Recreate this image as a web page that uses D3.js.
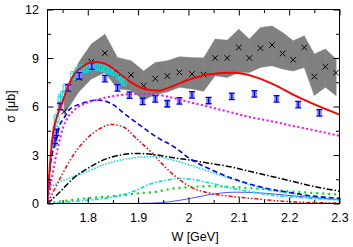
<!DOCTYPE html>
<html>
<head>
<meta charset="utf-8">
<script src="https://cdn.jsdelivr.net/npm/d3@7"></script>
<style>
body { margin: 0; background: #fff; }
svg text { font-family: "Liberation Sans", Arial, sans-serif; font-size: 12.5px; fill: #000; }
</style>
</head>
<body>
<svg id="chart"></svg>
<script>
// 坐标轴刻度
var xTicks = [1.8, 1.9, 2.0, 2.1, 2.2, 2.3];
var xTickLabels = ['1.8', '1.9', '2', '2.1', '2.2', '2.3'];
var xMinorTicks = [1.75, 1.85, 1.95, 2.05, 2.15, 2.25];
var yTicks = [0, 3, 6, 9, 12];
var yMinorTicks = [1.5, 4.5, 7.5, 10.5];

// 灰色误差带数据 (×)
var bandW     = [1.753, 1.782, 1.807, 1.834, 1.859, 1.886, 1.911, 1.934, 1.958, 1.982, 2.007, 2.030, 2.053, 2.077, 2.100, 2.121, 2.143, 2.166, 2.187, 2.208, 2.230, 2.250, 2.272, 2.293];
var bandSigma = [5.69, 7.77, 8.77, 9.30, 8.05, 7.95, 7.29, 7.72, 7.89, 8.11, 8.01, 7.97, 9.00, 9.00, 9.65, 9.00, 9.61, 9.80, 9.28, 8.89, 9.65, 7.85, 8.46, 8.09];
var bandHigh  = [6.60, 8.72, 9.86, 10.47, 9.03, 8.83, 8.20, 8.72, 8.83, 9.07, 9.03, 9.00, 10.17, 10.10, 10.78, 10.17, 10.88, 10.98, 10.57, 10.06, 10.37, 9.25, 9.55, 8.94];
var bandLow   = [5.50, 6.90, 7.70, 8.10, 7.10, 7.00, 6.40, 6.75, 6.90, 7.19, 7.09, 6.94, 7.90, 7.80, 8.11, 8.11, 8.42, 8.52, 8.32, 8.20, 8.42, 6.68, 7.19, 6.68];

// 蓝色数据点
var blueW     = [1.721, 1.735, 1.738, 1.745, 1.761, 1.783, 1.808, 1.834, 1.859, 1.883, 1.909, 1.934, 1.958, 1.982, 2.007, 2.040, 2.086, 2.131, 2.175, 2.218, 2.260];
var blueSigma = [1.10, 3.90, 4.40, 6.00, 7.15, 7.90, 8.50, 7.72, 7.15, 6.70, 6.31, 6.47, 6.17, 6.35, 6.72, 6.37, 6.63, 6.78, 6.47, 6.12, 5.61];

// 青色方块数据点
var cyanW     = [1.721, 1.732, 1.736, 1.738, 1.746, 1.750, 1.756, 1.771, 1.779, 1.788, 1.797, 1.803, 1.811, 1.819, 1.828, 1.836, 1.844, 1.852, 1.861, 1.868, 1.872];
var cyanSigma = [1.10, 3.70, 4.60, 5.24, 6.47, 6.68, 7.15, 7.91, 8.15, 8.32, 8.36, 8.46, 8.52, 8.48, 8.42, 8.32, 8.26, 8.15, 7.91, 7.70, 7.54];

// 理论曲线 [W, sigma]
var totalFit = [[1.72, 0.3], [1.7245, 2.2], [1.7296, 4.0], [1.7395, 5.45], [1.75, 6.3], [1.758, 7.0], [1.771, 7.9], [1.791, 8.5], [1.811, 8.75], [1.831, 8.68], [1.851, 8.35], [1.871, 7.85], [1.891, 7.4], [1.917, 7.05], [1.94, 6.98], [1.964, 7.2], [2.004, 7.7], [2.043, 8.0], [2.09, 8.08], [2.13, 7.85], [2.17, 7.35], [2.21, 6.7], [2.256, 6.05], [2.3, 5.5]];
var magentaPart = [[1.72, 0], [1.73, 1.8], [1.741, 3.5], [1.751, 4.7], [1.761, 5.35], [1.778, 5.9], [1.805, 6.3], [1.824, 6.47], [1.858, 6.68], [1.891, 6.78], [1.924, 6.78], [1.964, 6.57], [2.004, 6.26], [2.043, 5.96], [2.083, 5.65], [2.123, 5.34], [2.163, 5.1], [2.202, 4.83], [2.242, 4.58], [2.3, 4.18]];
var blueDashed = [[1.72, 0], [1.725, 2.2], [1.737, 3.9], [1.745, 4.9], [1.751, 5.2], [1.765, 5.85], [1.785, 6.15], [1.805, 6.35], [1.82, 6.4], [1.838, 6.3], [1.851, 6.1], [1.871, 5.6], [1.904, 4.83], [1.937, 4.11], [1.974, 3.45], [2.004, 2.75], [2.043, 2.12], [2.083, 1.6], [2.123, 1.19], [2.163, 0.88], [2.202, 0.68], [2.242, 0.48], [2.3, 0.32]];
var redDashDot = [[1.72, 0], [1.745, 1.55], [1.771, 2.98], [1.798, 4.01], [1.824, 4.63], [1.847, 4.89], [1.871, 4.73], [1.897, 4.01], [1.924, 3.24], [1.944, 2.57], [1.964, 1.95], [2.004, 1.03], [2.043, 0.63], [2.083, 0.45], [2.123, 0.32], [2.202, 0.11], [2.3, 0.03]];
var blackDashDot = [[1.72, 0], [1.745, 0.73], [1.771, 1.55], [1.805, 2.27], [1.838, 2.78], [1.871, 3.03], [1.897, 3.1], [1.937, 3.0], [1.964, 2.86], [2.004, 2.68], [2.043, 2.48], [2.083, 2.27], [2.123, 1.98], [2.163, 1.69], [2.202, 1.4], [2.242, 1.1], [2.3, 0.76]];
var cyanDotted = [[1.72, 0.9], [1.745, 1.34], [1.771, 1.65], [1.805, 2.06], [1.838, 2.47], [1.871, 2.72], [1.904, 2.86], [1.937, 2.9], [1.964, 2.72], [2.004, 2.37], [2.043, 1.96], [2.083, 1.55], [2.123, 1.14], [2.163, 0.83], [2.202, 0.63], [2.242, 0.42], [2.3, 0.22]];
var cyanDashDot = [[1.72, 0], [1.758, 0.08], [1.791, 0.18], [1.824, 0.28], [1.858, 0.45], [1.891, 0.75], [1.924, 1.2], [1.957, 1.45], [1.984, 1.55], [2.004, 1.5], [2.043, 1.27], [2.083, 0.96], [2.123, 0.73], [2.163, 0.52], [2.202, 0.42], [2.242, 0.32], [2.3, 0.22]];
var greenDotted = [[1.72, 0], [1.745, 0.12], [1.771, 0.22], [1.805, 0.34], [1.838, 0.42], [1.871, 0.52], [1.904, 0.64], [1.937, 0.73], [1.964, 0.9], [2.004, 1.02], [2.043, 1.07], [2.083, 1.03], [2.123, 0.95], [2.163, 0.85], [2.202, 0.75], [2.242, 0.67], [2.3, 0.55]];
var blueThin = [[1.72, 0], [1.88, 0], [1.924, 0.02], [1.964, 0.11], [2.004, 0.32], [2.043, 0.55], [2.09, 0.7], [2.133, 0.67], [2.173, 0.58], [2.212, 0.46], [2.25, 0.36], [2.3, 0.24]];

function drawChart(selector) {
    // svg的宽高
    var svgWidth = 353,
        svgHeight = 247;
    var padding = {left: 47.5, right: 13.5, top: 9.5, bottom: 43.5};
    var svg = d3.select(selector)
        .attr('width', svgWidth)
        .attr('height', svgHeight);

    var x = d3.scaleLinear()
        .domain([1.72, 2.3])
        .range([padding.left, svgWidth - padding.right]);
    var y = d3.scaleLinear()
        .domain([0, 12])
        .range([svgHeight - padding.bottom, padding.top]);

    var plot = svg.append('g');
    svg.append('defs').append('clipPath').attr('id', 'clip')
        .append('rect')
        .attr('x', padding.left).attr('y', padding.top)
        .attr('width', svgWidth - padding.left - padding.right)
        .attr('height', svgHeight - padding.top - padding.bottom);
    plot.attr('clip-path', 'url(#clip)');

    // 灰色误差带
    var bandData = bandW.map(function(w, i) {
        return {w: w, s: bandSigma[i], lo: bandLow[i], hi: bandHigh[i]};
    });
    var area = d3.area()
        .x(function(d) { return x(d.w); })
        .y0(function(d) { return y(d.lo); })
        .y1(function(d) { return y(d.hi); });
    plot.append('path')
        .datum(bandData)
        .attr('d', area)
        .attr('fill', '#808080')
        .attr('stroke', '#808080')
        .attr('stroke-width', 0.5);
    plot.selectAll('.band-bar')
        .data(bandData)
        .enter()
        .append('line')
        .attr('x1', function(d) { return x(d.w); })
        .attr('x2', function(d) { return x(d.w); })
        .attr('y1', function(d) { return y(d.lo); })
        .attr('y2', function(d) { return y(d.hi); })
        .attr('stroke', '#888888')
        .attr('stroke-width', 0.6);
    // × 标记
    plot.selectAll('.cross')
        .data(bandData)
        .enter()
        .append('path')
        .attr('d', function(d) {
            var cx = x(d.w), cy = y(d.s), r = 2.8;
            return 'M' + (cx - r) + ',' + (cy - r) + 'L' + (cx + r) + ',' + (cy + r) +
                'M' + (cx - r) + ',' + (cy + r) + 'L' + (cx + r) + ',' + (cy - r);
        })
        .attr('stroke', '#000')
        .attr('stroke-width', 1)
        .attr('fill', 'none');

    // 青色方块
    var cyanData = cyanW.map(function(w, i) { return [w, cyanSigma[i]]; });
    var cyanG = plot.selectAll('.cyan-pt')
        .data(cyanData)
        .enter()
        .append('g');
    cyanG.append('path')
        .attr('d', function(d) {
            var cx = x(d[0]), y1 = y(d[1] + 0.25), y2 = y(d[1] - 0.25);
            return 'M' + cx + ',' + y1 + 'L' + cx + ',' + y2 +
                'M' + (cx - 2.5) + ',' + y1 + 'L' + (cx + 2.5) + ',' + y1 +
                'M' + (cx - 2.5) + ',' + y2 + 'L' + (cx + 2.5) + ',' + y2;
        })
        .attr('stroke', '#00e0e0')
        .attr('stroke-width', 1);
    cyanG.append('rect')
        .attr('x', function(d) { return x(d[0]) - 2.5; })
        .attr('y', function(d) { return y(d[1]) - 2.5; })
        .attr('width', 5)
        .attr('height', 5)
        .attr('fill', 'none')
        .attr('stroke', '#00e0e0')
        .attr('stroke-width', 1);

    // 蓝色数据点
    var blueData = blueW.map(function(w, i) { return [w, blueSigma[i]]; });
    var blueG = plot.selectAll('.blue-pt')
        .data(blueData)
        .enter()
        .append('g');
    blueG.append('rect')
        .attr('x', function(d) { return x(d[0]) - 2.5; })
        .attr('y', function(d) { return y(d[1] + 0.2); })
        .attr('width', 5)
        .attr('height', function(d) { return y(d[1] - 0.2) - y(d[1] + 0.2); })
        .attr('fill', '#8888ff');
    blueG.append('path')
        .attr('d', function(d) {
            var cx = x(d[0]), y1 = y(d[1] + 0.2), y2 = y(d[1] - 0.2);
            return 'M' + cx + ',' + y1 + 'L' + cx + ',' + y2 +
                'M' + (cx - 3) + ',' + y1 + 'L' + (cx + 3) + ',' + y1 +
                'M' + (cx - 3) + ',' + y2 + 'L' + (cx + 3) + ',' + y2;
        })
        .attr('stroke', '#0000ff')
        .attr('stroke-width', 1.3);

    // 曲线
    var line = d3.line()
        .curve(d3.curveMonotoneX)
        .x(function(d) { return x(d[0]); })
        .y(function(d) { return y(d[1]); });
    var curves = [
        {data: blueThin, color: '#5050ff', width: 1, dash: null},
        {data: greenDotted, color: '#00dd00', width: 2.2, dash: '2,4'},
        {data: cyanDashDot, color: '#00e0e0', width: 1.6, dash: '4,2,1.5,2'},
        {data: cyanDotted, color: '#00e0e0', width: 1.5, dash: '1.5,1.5'},
        {data: blackDashDot, color: '#000000', width: 1.5, dash: '6,2,1.5,2'},
        {data: redDashDot, color: '#ff0000', width: 1.5, dash: '4,2,1.5,2,1.5,2'},
        {data: blueDashed, color: '#0000ff', width: 1.6, dash: '5,3'},
        {data: magentaPart, color: '#ff00ff', width: 2, dash: '2,2.5'},
        {data: totalFit, color: '#ff0000', width: 2, dash: null}
    ];
    plot.selectAll('.curve')
        .data(curves)
        .enter()
        .append('path')
        .attr('d', function(d) { return line(d.data); })
        .attr('fill', 'none')
        .attr('stroke', function(d) { return d.color; })
        .attr('stroke-width', function(d) { return d.width; })
        .attr('stroke-dasharray', function(d) { return d.dash; });

    // 坐标轴
    var bottom = svgHeight - padding.bottom,
        right = svgWidth - padding.right;
    function styleAxis(g) {
        g.select('.domain').remove();
        g.selectAll('line').attr('stroke', '#000');
        g.selectAll('text').attr('font-size', null).attr('font-family', null);
    }
    svg.append('g')
        .attr('transform', 'translate(0,' + bottom + ')')
        .call(d3.axisBottom(x).tickValues(xTicks).tickSize(-6).tickPadding(9.5)
            .tickFormat(function(d, i) { return xTickLabels[i]; }))
        .call(styleAxis);
    svg.append('g')
        .attr('transform', 'translate(0,' + bottom + ')')
        .call(d3.axisBottom(x).tickValues(xMinorTicks).tickSize(-3.5).tickFormat(''))
        .call(styleAxis);
    svg.append('g')
        .attr('transform', 'translate(0,' + padding.top + ')')
        .call(d3.axisTop(x).tickValues(xTicks).tickSize(-6).tickFormat(''))
        .call(styleAxis);
    svg.append('g')
        .attr('transform', 'translate(0,' + padding.top + ')')
        .call(d3.axisTop(x).tickValues(xMinorTicks).tickSize(-3.5).tickFormat(''))
        .call(styleAxis);
    svg.append('g')
        .attr('transform', 'translate(' + padding.left + ',0)')
        .call(d3.axisLeft(y).tickValues(yTicks).tickSize(-6).tickPadding(8.5)
            .tickFormat(d3.format('d')))
        .call(styleAxis);
    svg.append('g')
        .attr('transform', 'translate(' + padding.left + ',0)')
        .call(d3.axisLeft(y).tickValues(yMinorTicks).tickSize(-3.5).tickFormat(''))
        .call(styleAxis);
    svg.append('g')
        .attr('transform', 'translate(' + right + ',0)')
        .call(d3.axisRight(y).tickValues(yTicks).tickSize(-6).tickFormat(''))
        .call(styleAxis);
    svg.append('g')
        .attr('transform', 'translate(' + right + ',0)')
        .call(d3.axisRight(y).tickValues(yMinorTicks).tickSize(-3.5).tickFormat(''))
        .call(styleAxis);

    // 边框
    svg.append('rect')
        .attr('x', padding.left)
        .attr('y', padding.top)
        .attr('width', right - padding.left)
        .attr('height', bottom - padding.top)
        .attr('fill', 'none')
        .attr('stroke', '#000')
        .attr('stroke-width', 1);

    // 轴标题
    svg.append('text')
        .attr('x', 195)
        .attr('y', 241)
        .attr('text-anchor', 'middle')
        .text('W [GeV]');
    svg.append('text')
        .attr('transform', 'translate(15,' + (padding.top + bottom) / 2 + ') rotate(-90)')
        .attr('text-anchor', 'middle')
        .text('σ [μb]');
}
drawChart('#chart');
</script>
</body>
</html>
